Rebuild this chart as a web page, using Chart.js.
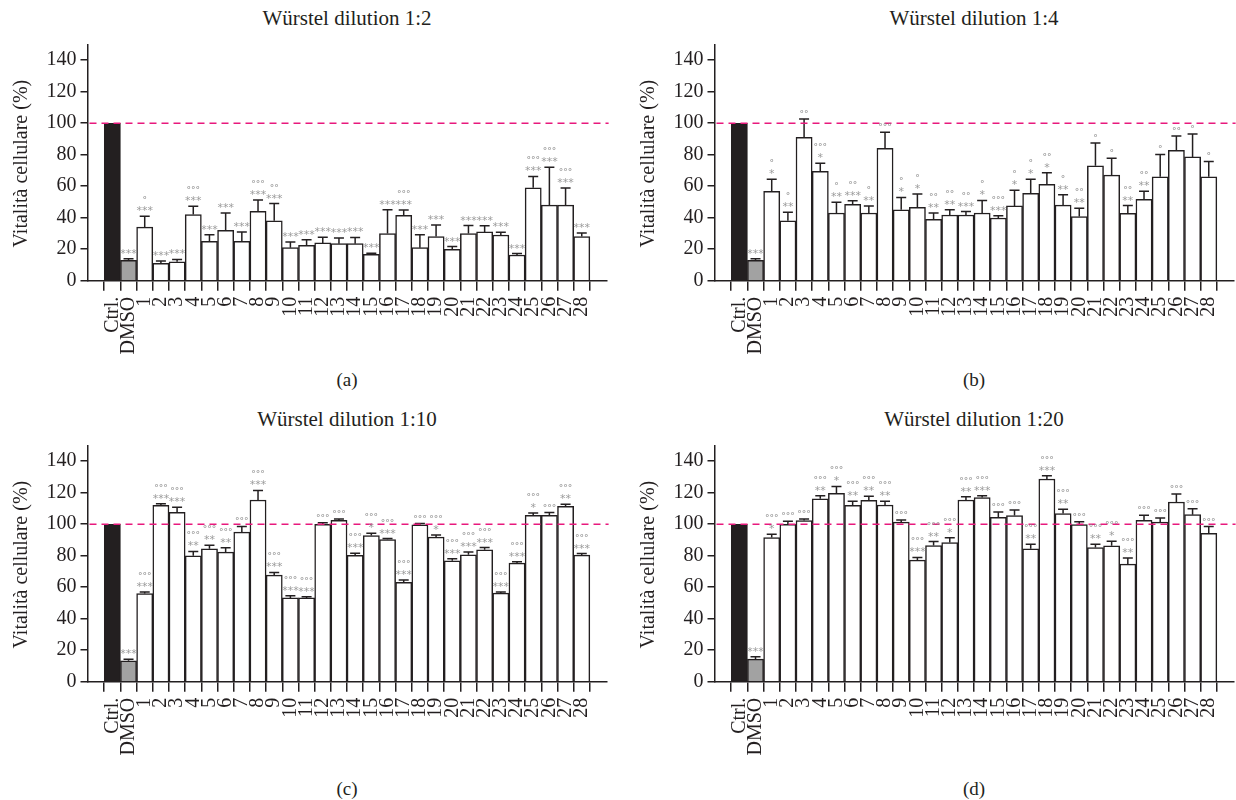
<!DOCTYPE html>
<html>
<head>
<meta charset="utf-8">
<script src="https://cdn.jsdelivr.net/npm/chart.js@4.4.1/dist/chart.umd.min.js"></script>
<style>
  body { margin: 0; background: #fff; width: 1236px; height: 800px; overflow: hidden; position: relative;
         font-family: "Liberation Serif", serif; color: #231f20; }
  canvas { position: absolute; }
  .ttl, .lbl { position: absolute; font-size: 21px; line-height: 24px; font-weight: normal;
               white-space: nowrap; transform: translateX(-50%); }
  .lbl { font-size: 19px; }
</style>
</head>
<body>
<div class="ttl" style="left:347px;top:6px">Würstel dilution 1:2</div>
<div class="ttl" style="left:974px;top:6px">Würstel dilution 1:4</div>
<div class="ttl" style="left:347px;top:407px">Würstel dilution 1:10</div>
<div class="ttl" style="left:974px;top:407px">Würstel dilution 1:20</div>
<div class="lbl" style="left:347px;top:368px">(a)</div>
<div class="lbl" style="left:974px;top:368px">(b)</div>
<div class="lbl" style="left:347px;top:777px">(c)</div>
<div class="lbl" style="left:974px;top:777px">(d)</div>

<canvas id="chartA" width="612" height="380" style="left:0;top:0"></canvas>
<canvas id="chartB" width="612" height="380" style="left:627px;top:0"></canvas>
<canvas id="chartC" width="612" height="380" style="left:0;top:401px"></canvas>
<canvas id="chartD" width="612" height="380" style="left:627px;top:401px"></canvas>

<script>
// ── Dati ──────────────────────────────────────────────────────────────────────
const CATEGORIES = ['Ctrl.', 'DMSO', '1', '2', '3', '4', '5', '6', '7', '8', '9', '10',
  '11', '12', '13', '14', '15', '16', '17', '18', '19', '20',
  '21', '22', '23', '24', '25', '26', '27', '28'];
const Y_TICKS = [0, 20, 40, 60, 80, 100, 120, 140];
const REF_LINE = 100;
const Y_TITLE = 'Vitalità cellulare (%)';

// 1:2
const VALUES_A = [100, 13, 34, 11, 12, 42, 25, 32, 25, 44, 38, 21,
  22.5, 24, 23.5, 23.5, 16.7, 30, 41.5, 21, 28, 20,
  30, 31, 29, 16.3, 59, 48, 48, 28];
const ERR_A = [0, 1, 7, 1.5, 1.5, 5.3, 4.2, 11, 6, 7.2, 11, 3.6,
  3.5, 3.6, 3.6, 4, 0.7, 15, 3.4, 8.2, 7.4, 1.7,
  5, 3.9, 1.7, 0.9, 7.2, 24, 10.8, 2.3];
const STARS_A = ['', '***', '***', '***', '***', '***', '***', '***', '***', '***', '***', '***',
  '***', '***', '***', '***', '***', '***', '***', '***', '***', '***',
  '***', '***', '***', '***', '***', '***', '***', '***'];
const CIRC_A = ['', '', '°', '', '', '°°°', '', '', '', '°°°', '°°', '',
  '', '', '', '', '', '', '°°°', '', '', '',
  '', '', '', '', '°°°', '°°°', '°°°', ''];

// 1:4
const VALUES_B = [100, 13, 56.8, 38, 91, 69.5, 43, 48.5, 43, 84, 45, 46.6,
  39, 41.7, 41.7, 43, 39.8, 47.5, 55.5, 61.2, 48, 40.7,
  73, 67, 42.8, 51.7, 66, 82.8, 78.6, 66];
const ERR_B = [0, 1, 7.6, 5.5, 11.7, 5.1, 6.8, 2.3, 4.5, 10.2, 7.9, 8.5,
  4, 3.4, 2.2, 8, 1.5, 10, 9, 7.4, 6.6, 5.3,
  14.4, 10.8, 4.9, 5.1, 14.2, 9.1, 14.6, 9.7];
const STARS_B = ['', '***', '*', '**', '', '*', '**', '***', '**', '', '*', '*',
  '**', '**', '***', '*', '***', '*', '*', '*', '**', '**',
  '', '', '**', '**', '', '', '', ''];
const CIRC_B = ['', '', '°', '°', '°°', '°°°', '°', '°°', '°', '°°°', '°', '°',
  '°°', '°°', '°°', '°', '°°°', '°', '°', '°°', '°', '°°',
  '°', '°', '°°', '°°', '°', '°°', '°', '°'];

// 1:10
const VALUES_C = [100, 13.3, 56, 112, 107.6, 80, 84.4, 82.3, 95, 115.4, 67.7, 53.2,
  53.2, 100, 102.5, 80.2, 92.8, 90.3, 63.1, 99.6, 91.8, 76.8,
  80.6, 83.8, 56.3, 75.3, 105.7, 105.7, 111.4, 80.4];
const ERR_C = [0, 1, 1, 1, 3.2, 2.7, 2.3, 2.7, 3.6, 6.1, 1.7, 1.4,
  0.8, 1, 0.9, 1.4, 1.5, 0.6, 1.5, 0.8, 1.4, 1.3,
  1.7, 1.4, 0.7, 0.9, 1.5, 1.7, 1.3, 1];
const STARS_C = ['', '***', '***', '***', '***', '**', '**', '**', '', '***', '***', '***',
  '***', '', '', '***', '*', '***', '***', '', '*', '***',
  '***', '***', '***', '***', '*', '', '**', '***'];
const CIRC_C = ['', '', '°°°', '°°°', '°°°', '°°°', '°°°', '°°°', '°°°', '°°°', '°°°', '°°°',
  '°°°', '°°°', '°°°', '°°°', '°°°', '°°°', '°°°', '°°°', '°°°', '°°°',
  '°°°', '°°°', '°°°', '°°°', '°°°', '°°°', '°°°', '°°°'];

// 1:20
const VALUES_D = [100, 14.3, 91.6, 100, 102.3, 116.2, 119.6, 112, 115.2, 112.2, 101.3, 77.2,
  86.5, 88.4, 115.4, 116.9, 104.4, 105.5, 84.4, 128.7, 106.8, 99.8,
  85.2, 86.3, 74.7, 102.5, 101.3, 114.1, 106.1, 94.3];
const ERR_D = [0, 1.5, 2.1, 1.9, 1.1, 1.9, 4.4, 2.6, 2.5, 2.4, 1.4, 1.7,
  2.5, 3, 2.1, 1.2, 3.4, 3.6, 2.9, 2.1, 2.7, 1.7,
  2.1, 2.9, 3.8, 3.2, 2.7, 5.1, 3.8, 4.2];
const STARS_D = ['', '***', '*', '', '', '**', '*', '**', '**', '**', '', '***',
  '**', '*', '**', '***', '', '', '**', '***', '**', '',
  '**', '*', '**', '', '', '', '', ''];
const CIRC_D = CIRC_C;

// ── Stile ─────────────────────────────────────────────────────────────────────
const INK = '#231f20';
const BAR_COLORS = CATEGORIES.map((c, i) => i === 0 ? INK : i === 1 ? '#a2a2a2' : '#ffffff');

Chart.defaults.font.family = '"Liberation Serif", serif';
Chart.defaults.color = INK;

// ── Grafico ───────────────────────────────────────────────────────────────────
function drawPanel(canvasId, values, errors, stars, circles) {
  const overlay = {
    id: 'overlay',
    afterDatasetsDraw(chart) {
      const { ctx, chartArea, scales: { y } } = chart;
      const bars = chart.getDatasetMeta(0).data;
      ctx.save();

      // barre di errore
      ctx.strokeStyle = INK;
      ctx.lineWidth = 1.5;
      values.forEach((v, i) => {
        if (!errors[i]) return;
        const bx = bars[i].x;
        const y0 = y.getPixelForValue(v);
        const y1 = y.getPixelForValue(v + errors[i]);
        ctx.beginPath();
        ctx.moveTo(bx, y0); ctx.lineTo(bx, y1);
        ctx.moveTo(bx - 5, y1); ctx.lineTo(bx + 5, y1);
        ctx.stroke();
      });

      // linea 100%
      const yr = y.getPixelForValue(REF_LINE);
      ctx.strokeStyle = '#e8197d';
      ctx.setLineDash([7, 5]);
      ctx.beginPath();
      ctx.moveTo(chartArea.left + 2, yr);
      ctx.lineTo(chartArea.right + 2, yr);
      ctx.stroke();
      ctx.setLineDash([]);

      // significatività
      ctx.textAlign = 'center';
      ctx.textBaseline = 'alphabetic';
      values.forEach((v, i) => {
        const bx = bars[i].x;
        let yy = y.getPixelForValue(v + errors[i]) - 2;
        if (stars[i]) {
          ctx.font = '11px "DejaVu Sans"';
          ctx.fillStyle = '#9b9b9b';
          ctx.fillText(stars[i], bx, yy);
          yy -= 11;
        }
        if (circles[i]) {
          ctx.font = '9px "DejaVu Sans"';
          ctx.fillStyle = '#8c8c8c';
          ctx.fillText(circles[i], bx, yy);
        }
      });

      // titolo asse y
      ctx.translate(22, (chartArea.top + chartArea.bottom) / 2 + 1);
      ctx.rotate(-Math.PI / 2);
      ctx.font = '20px "Liberation Serif"';
      ctx.fillStyle = INK;
      ctx.textBaseline = 'middle';
      ctx.fillText(Y_TITLE, 0, 0);
      ctx.restore();
    }
  };

  return new Chart(document.getElementById(canvasId), {
    type: 'bar',
    data: {
      datasets: [{
        data: values.map((v, i) => ({ x: i, y: v })),
        backgroundColor: BAR_COLORS,
        borderColor: INK,
        borderWidth: 1.5,
        barPercentage: 1,
        categoryPercentage: 1,
      }],
    },
    options: {
      responsive: false,
      animation: false,
      devicePixelRatio: 1,
      layout: { padding: { top: 44.5, right: 5, left: 0, bottom: 0 } },
      plugins: { legend: { display: false }, tooltip: { enabled: false } },
      scales: {
        x: {
          type: 'linear',
          min: -1,
          max: 30,
          afterBuildTicks: s => { s.ticks = CATEGORIES.map((c, i) => ({ value: i })); },
          afterFit: s => { s.height = 380 - 280.7; },
          ticks: {
            autoSkip: false,
            minRotation: 90,
            maxRotation: 90,
            padding: 6,
            font: { size: 20 },
            callback: v => CATEGORIES[v],
          },
          grid: { drawOnChartArea: false, tickLength: 10, color: INK, lineWidth: 1.5 },
          border: { color: INK, width: 1.5 },
        },
        y: {
          min: 0,
          max: 150,
          afterBuildTicks: s => { s.ticks = Y_TICKS.map(v => ({ value: v })); },
          afterFit: s => { s.width = 87.5; },
          ticks: { padding: 4, font: { size: 20 } },
          grid: { drawOnChartArea: false, tickLength: 7, color: INK, lineWidth: 1.5 },
          border: { color: INK, width: 1.5 },
        },
      },
    },
    plugins: [overlay],
  });
}

drawPanel('chartA', VALUES_A, ERR_A, STARS_A, CIRC_A);
drawPanel('chartB', VALUES_B, ERR_B, STARS_B, CIRC_B);
drawPanel('chartC', VALUES_C, ERR_C, STARS_C, CIRC_C);
drawPanel('chartD', VALUES_D, ERR_D, STARS_D, CIRC_D);
</script>
</body>
</html>
